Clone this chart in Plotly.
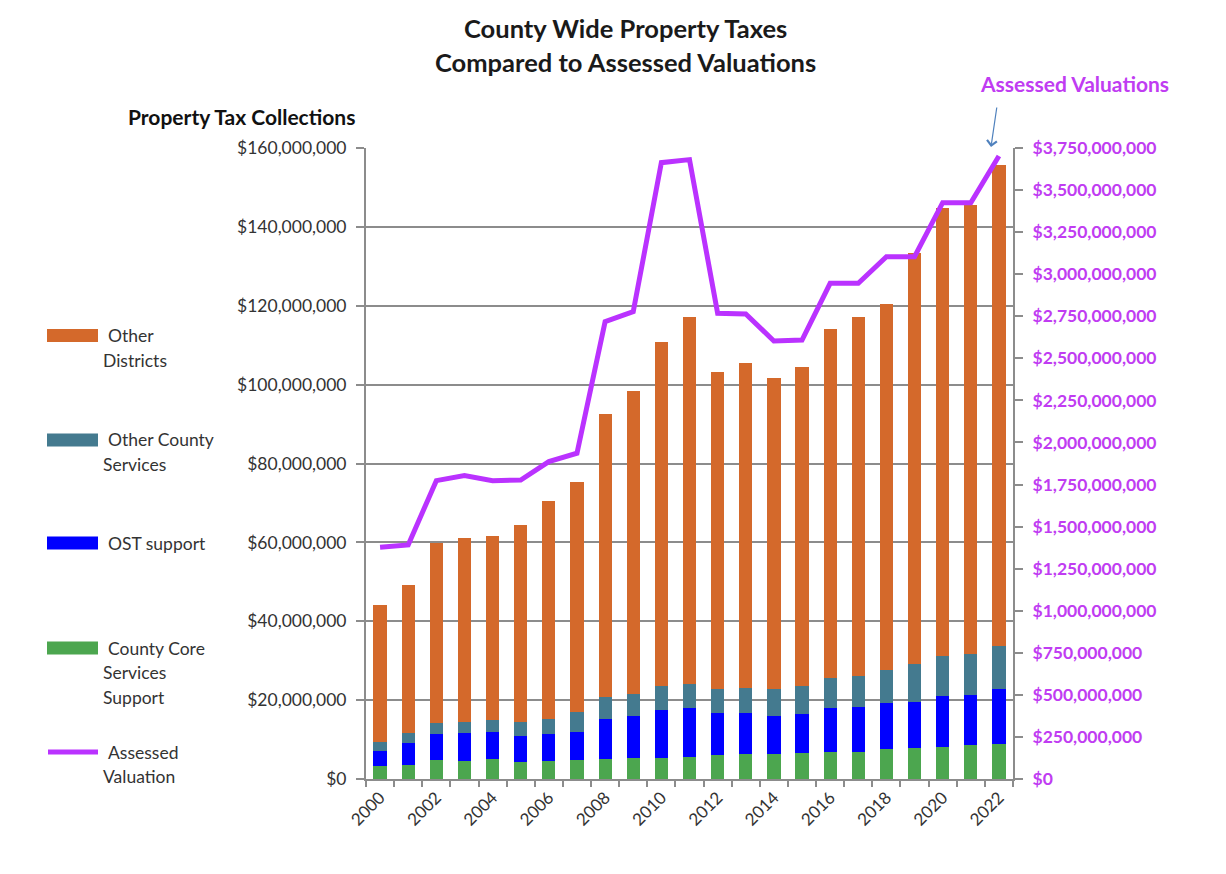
import plotly.graph_objects as go

years = list(range(2000, 2023))

# Stack tops (in dollars, millions)
core_support = [3.2, 3.6, 4.7, 4.5, 5.1, 4.2, 4.5, 4.7, 5.1, 5.4, 5.4, 5.7,
                6.0, 6.3, 6.3, 6.7, 6.9, 6.9, 7.5, 7.9, 8.2, 8.5, 9.0]
ost_support = [3.8, 5.5, 6.8, 7.1, 6.8, 6.7, 7.0, 7.2, 10.1, 10.5, 12.2, 12.4,
               10.8, 10.5, 9.8, 9.8, 11.1, 11.4, 11.7, 11.6, 12.8, 12.9, 13.9]
other_county = [2.3, 2.6, 2.6, 2.9, 3.0, 3.6, 3.6, 5.1, 5.5, 5.7, 6.1, 5.9,
                6.1, 6.3, 6.8, 7.2, 7.6, 7.8, 8.5, 9.7, 10.1, 10.3, 10.9]
total_tax = [44.1, 49.2, 59.8, 61.2, 61.7, 64.4, 70.6, 75.4, 92.6, 98.5, 110.9, 117.2,
             103.3, 105.4, 101.8, 104.4, 114.2, 117.2, 120.4, 133.5, 144.7, 145.5, 155.7]
assessed = [1377, 1391, 1773, 1803, 1773, 1777, 1886, 1936, 2718, 2777, 3663, 3681,
            2768, 2764, 2603, 2609, 2946, 2946, 3104, 3104, 3425, 3425, 3702]  # $ millions

M = 1_000_000
core_v = [v * M for v in core_support]
ost_v = [v * M for v in ost_support]
oc_v = [v * M for v in other_county]
od_v = [(t - a - b - c) * M for t, a, b, c in zip(total_tax, core_support, ost_support, other_county)]
av_v = [v * M for v in assessed]

C_ORANGE = "#D4692B"
C_TEAL = "#447A8F"
C_BLUE = "#0000FF"
C_GREEN = "#4CA64F"
C_PURPLE = "#BA32FF"
C_AXISTXT = "#C03CF2"
C_GRID = "#8C8C8C"
C_TXT = "#333333"
FONT = "Lato"

# page size and body offset (default 8px page margin)
W, H = 1226, 874
OFF = 8
L, R, T, B = 366, 1013, 148, 779   # plot area in page pixels


def xp(px):
    return (px - L) / (R - L)


def yp(py):
    return (B - py) / (B - T)


fig = go.Figure()
fig.add_bar(x=years, y=core_v, name="County Core Services Support", marker_color=C_GREEN)
fig.add_bar(x=years, y=ost_v, name="OST support", marker_color=C_BLUE)
fig.add_bar(x=years, y=oc_v, name="Other County Services", marker_color=C_TEAL)
fig.add_bar(x=years, y=od_v, name="Other Districts", marker_color=C_ORANGE)
fig.add_scatter(x=years, y=av_v, name="Assessed Valuation", yaxis="y2", mode="lines",
                line=dict(color=C_PURPLE, width=5))

fig.update_traces(selector=dict(type="bar"), marker_line_width=0)

fig.update_layout(
    width=W - OFF, height=H - OFF,
    margin=dict(l=L - OFF, r=W - R, t=T - OFF, b=H - B, autoexpand=False),
    paper_bgcolor="white", plot_bgcolor="white",
    barmode="stack", bargap=0.53,
    showlegend=False,
    font=dict(family=FONT, color=C_TXT, size=17),
    xaxis=dict(
        range=[1999.5, 2022.5], tickmode="linear", tick0=2000, dtick=2,
        tickangle=-45, ticks="", showgrid=False, zeroline=False,
        showline=True, linecolor=C_GRID, linewidth=2,
        tickfont=dict(size=17, color=C_TXT),
        minor=dict(tickmode="linear", tick0=1999.5, dtick=1, ticks="outside",
                   ticklen=6, tickcolor=C_GRID, tickwidth=2, showgrid=False),
    ),
    yaxis=dict(
        range=[0, 160 * M], dtick=20 * M, tickprefix="$", tickformat=",.0f",
        showgrid=True, gridcolor=C_GRID, gridwidth=2, zeroline=False,
        showline=True, linecolor=C_GRID, linewidth=2,
        ticks="outside", ticklen=8, tickcolor=C_GRID, tickwidth=2,
        ticklabelstandoff=6,
        tickfont=dict(size=17.5, color=C_TXT),
    ),
    yaxis2=dict(
        range=[0, 3750 * M], dtick=250 * M, tickprefix="$", tickformat=",.0f",
        overlaying="y", side="right", showgrid=False, zeroline=False,
        showline=True, linecolor=C_GRID, linewidth=2,
        ticks="outside", ticklen=8, tickcolor=C_GRID, tickwidth=2,
        ticklabelstandoff=6,
        tickfont=dict(size=17.5, color=C_AXISTXT, family=FONT, weight="bold"),
    ),
)

ann = []


def text(px, py, s, size=17, color=C_TXT, bold=False, xanchor="left"):
    ann.append(dict(x=xp(px), y=yp(py), xref="paper", yref="paper", text=s,
                    showarrow=False, xanchor=xanchor, yanchor="middle",
                    font=dict(size=size, color=color, family=FONT,
                              weight="bold" if bold else "normal")))


# Titles
text(625, 28, "County Wide Property Taxes", size=25.5, color="#1a1a1a", bold=True, xanchor="center")
text(625, 62, "Compared to Assessed Valuations", size=25.5, color="#1a1a1a", bold=True, xanchor="center")
text(357, 116, "Property Tax Collections", size=21, color="#111111", bold=True, xanchor="right")
text(1074, 83, "Assessed Valuations", size=21, color=C_AXISTXT, bold=True, xanchor="center")

# Arrow pointing at the latest assessed valuation
ann.append(dict(x=xp(991), y=yp(147), xref="paper", yref="paper", text="",
                showarrow=True, ax=6, ay=-41, axref="pixel", ayref="pixel",
                arrowhead=4, arrowsize=1.6, arrowwidth=1.2, arrowcolor="#4F81BD"))

# Custom legend
shapes = []
legend_items = [
    (C_ORANGE, "bar", 335.5, ["Other", "Districts"]),
    (C_TEAL, "bar", 440, ["Other County", "Services"]),
    (C_BLUE, "bar", 543, ["OST support"]),
    (C_GREEN, "bar", 648, ["County Core", "Services", "Support"]),
    (C_PURPLE, "line", 752, ["Assessed", "Valuation"]),
]
for color, kind, cy, lines in legend_items:
    if kind == "bar":
        shapes.append(dict(type="rect", xref="paper", yref="paper",
                           x0=xp(47), x1=xp(98), y0=yp(cy + 6.5), y1=yp(cy - 6.5),
                           fillcolor=color, line=dict(width=0)))
    else:
        shapes.append(dict(type="line", xref="paper", yref="paper",
                           x0=xp(48), x1=xp(98), y0=yp(cy), y1=yp(cy),
                           line=dict(color=color, width=5)))
    for i, s in enumerate(lines):
        text(106 if i == 0 else 101, cy + i * 24.5, s, size=17.5)

fig.update_layout(annotations=ann, shapes=shapes)

fig.write_html("out.html")
